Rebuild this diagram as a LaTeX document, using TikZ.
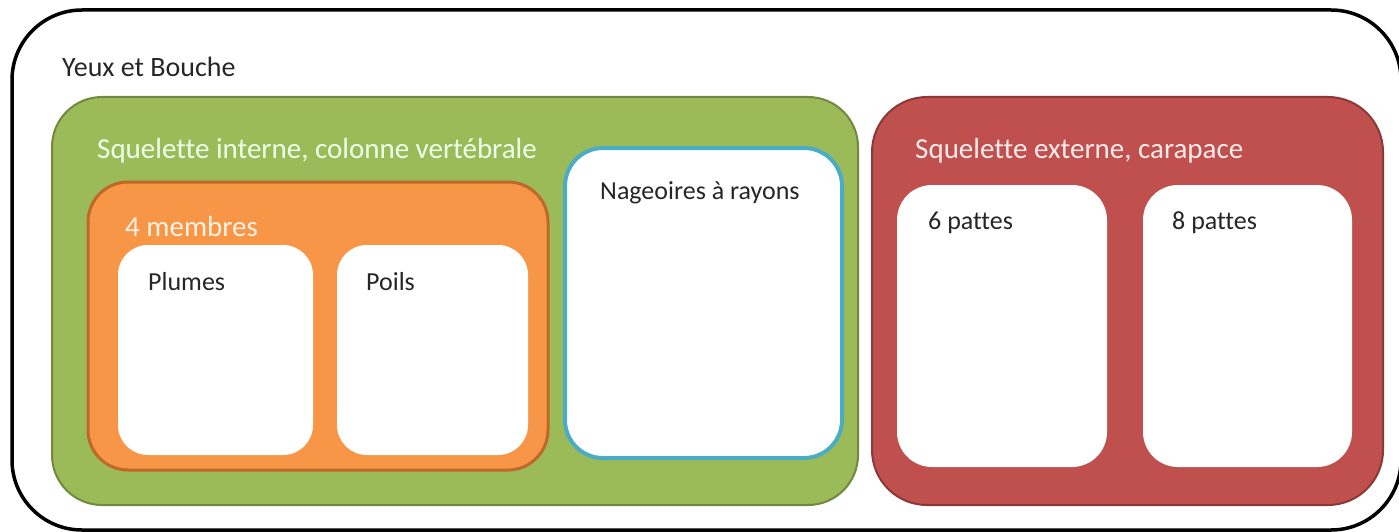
\documentclass[tikz,border=0pt]{standalone}
\usepackage{fontspec}
\setmainfont[Ligatures=NoCommon]{Carlito}
\usetikzlibrary{positioning}
\definecolor{leafgreen}{HTML}{9BBB59}
\definecolor{leafgreendark}{HTML}{71893F}
\definecolor{limborange}{HTML}{F79646}
\definecolor{limborangedark}{HTML}{C0682A}
\definecolor{shellred}{HTML}{C0504D}
\definecolor{shellreddark}{HTML}{8C3836}
\definecolor{finblue}{HTML}{4BACC6}
\definecolor{inktext}{HTML}{262626}
\tikzstyle{group} = [rectangle, anchor=north west, inner sep=0pt, outer sep=0pt]
\tikzstyle{card} = [rectangle, anchor=north west, inner sep=0pt, outer sep=0pt, fill=white, rounded corners=30pt]
\tikzset{
	title/.style={anchor=base west, inner sep=0pt, font=\fontsize{29}{31}\selectfont},
	label/.style={anchor=base west, inner sep=0pt, text=inktext, font=\fontsize{26}{28}\selectfont}
}

\begin{document}
\begin{tikzpicture}[x=1pt, y=-1pt]
		\useasboundingbox (0,0) rectangle (1399,532);
		
		% Boxes
		\node (all) [group, draw=black, line width=3.5pt, rounded corners=70pt, minimum width=1389pt, minimum height=520pt] at (12,10) {};
		\node (spine) [group, fill=leafgreen, draw=leafgreendark, line width=2pt, rounded corners=50pt, minimum width=806pt, minimum height=408pt] at (52,97) {};
		\node (limbs) [group, fill=limborange, draw=limborangedark, line width=3pt, rounded corners=40pt, minimum width=460pt, minimum height=288pt] at (88,182) {};
		\node (feathers) [card, minimum width=195pt, minimum height=210pt] at (118,245) {};
		\node (hair) [card, minimum width=191pt, minimum height=210pt] at (337,245) {};
		\node (fins) [card, draw=finblue, line width=4pt, rounded corners=38pt, minimum width=277pt, minimum height=310pt] at (565,148) {};
		\node (shell) [group, fill=shellred, draw=shellreddark, line width=2pt, rounded corners=55pt, minimum width=511pt, minimum height=408pt] at (872,97) {};
		\node (six) [card, rounded corners=35pt, minimum width=210pt, minimum height=282pt] at (897,185) {};
		\node (eight) [card, rounded corners=35pt, minimum width=209pt, minimum height=282pt] at (1143,185) {};
		
		% Labels
		\node (alltext) [label, font=\fontsize{28}{30}\selectfont] at (62,77) {Yeux et Bouche};
		\node (spinetext) [title, text=green!8!white] at (97,158) {Squelette interne, colonne vertébrale};
		\node (limbstext) [title, text=orange!10!white] at (125,236) {4 membres};
		\node (featherstext) [label] at (148,290) {Plumes};
		\node (hairtext) [label] at (366,290) {Poils};
		\node (finstext) [label] at (600,199) {Nageoires à rayons};
		\node (shelltext) [title, text=red!8!white] at (915,158) {Squelette externe, carapace};
		\node (sixtext) [label] at (928,229) {6 pattes};
		\node (eighttext) [label] at (1172,229) {8 pattes};
		
	\end{tikzpicture}
\end{document}
